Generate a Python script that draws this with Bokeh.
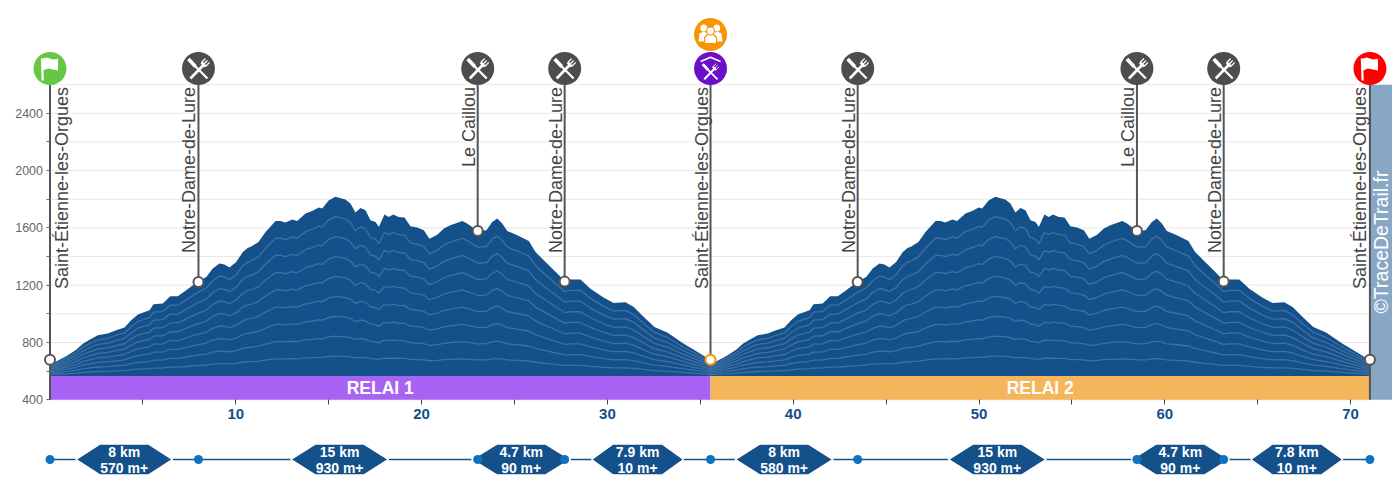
import numpy as np
from math import pi
from bokeh.plotting import figure
from bokeh.layouts import column
from bokeh.models import Range1d, FixedTicker
from bokeh.core.properties import value
from bokeh.embed import file_html
from bokeh.resources import INLINE

# ---------- data ----------
km_relai1 = [0,.33,.87,1.41,1.77,2.13,2.57,3.11,3.56,4.01,4.37,4.73,5.09,5.36,5.57,6.07,6.47,6.88,7.33,7.69,
 7.99,8.41,8.76,9.12,9.39,9.66,10.02,10.38,10.65,10.79,11.22,11.60,12.14,12.41,12.67,13.04,13.30,13.75,14.11,14.47,
 14.65,15.01,15.37,15.54,15.90,16.17,16.44,16.71,16.98,17.25,17.52,17.70,18.00,18.23,18.47,18.77,19.08,19.40,19.76,20.12,
 20.42,20.84,21.20,21.55,22.19,22.45,23.02,23.49,23.80,24.07,24.34,24.61,25.15,25.77,26.13,26.67,27.30,27.71,28.01,28.55,
 29.09,29.81,30.34,30.97,31.42,31.96,32.53,33.22,34.11,35.01,35.55]
ele_relai1 = [655,668,704,750,792,820,850,862,885,904,955,995,1013,1025,1067,1072,1122,1122,1164,1199,
 1225,1257,1316,1351,1344,1323,1362,1432,1462,1467,1502,1571,1648,1648,1637,1658,1648,1700,1718,1742,
 1735,1793,1818,1811,1798,1770,1707,1739,1723,1653,1641,1606,1693,1676,1693,1676,1672,1611,1602,1583,
 1525,1553,1595,1618,1648,1630,1578,1583,1641,1665,1630,1578,1548,1509,1432,1362,1281,1229,1239,1239,
 1176,1113,1076,1081,1048,978,908,869,792,722,676]
km_relai2 = [35.55,35.85,36.39,36.93,37.29,37.65,38.09,38.63,39.08,39.53,39.89,40.25,40.61,40.88,41.09,41.59,41.99,42.40,42.85,43.21,
 43.47,43.93,44.28,44.64,44.91,45.18,45.54,45.90,46.17,46.31,46.74,47.12,47.66,47.93,48.19,48.56,48.82,49.27,49.63,49.99,
 50.17,50.53,50.89,51.06,51.42,51.69,51.96,52.23,52.50,52.77,53.04,53.22,53.52,53.75,53.99,54.29,54.60,54.92,55.28,55.64,
 55.94,56.36,56.72,57.07,57.71,57.97,58.50,58.97,59.30,59.57,59.84,60.11,60.65,61.27,61.63,62.17,62.80,63.17,63.47,64.01,
 64.55,65.27,65.80,66.43,66.88,67.42,67.99,68.68,69.57,70.47,71.04]
ele_relai2 = [655,668,704,750,792,820,850,862,885,904,955,995,1013,1025,1067,1072,1122,1122,1164,1199,
 1225,1257,1316,1351,1344,1323,1362,1432,1462,1467,1502,1571,1648,1648,1637,1658,1648,1700,1718,1742,
 1735,1793,1818,1811,1798,1770,1707,1739,1723,1653,1641,1606,1693,1676,1693,1676,1672,1611,1602,1583,
 1525,1553,1595,1618,1648,1630,1578,1583,1641,1665,1630,1578,1548,1509,1432,1362,1281,1229,1239,1239,
 1176,1113,1076,1081,1048,978,908,869,792,722,676]

stop_names = ["Saint-Étienne-les-Orgues","Notre-Dame-de-Lure","Le Caillou","Notre-Dame-de-Lure",
              "Saint-Étienne-les-Orgues","Notre-Dame-de-Lure","Le Caillou","Notre-Dame-de-Lure","Saint-Étienne-les-Orgues"]
stop_km  = [0, 7.99, 23.02, 27.70, 35.55, 43.47, 58.50, 63.17, 71.04]
stop_ele = [680, 1222, 1578, 1225, 680, 1222, 1578, 1225, 680]
stop_icon_colors = ["#66C744","#4D4D4D","#4D4D4D","#4D4D4D","#6A10C9","#4D4D4D","#4D4D4D","#4D4D4D","#FF0000"]
stop_label_offset = [12, -9, -9, -9, -8.5, -9, -9, -9, -9.5]

relay_names = ["RELAI 1", "RELAI 2"]
relay_start = [0, 35.55]
relay_end   = [35.55, 71.04]
relay_colors = ["#A863F4", "#F5B65B"]

leg_km    = ["8 km","15 km","4.7 km","7.9 km","8 km","15 km","4.7 km","7.8 km"]
leg_gain  = ["570 m+","930 m+","90 m+","10 m+","580 m+","930 m+","90 m+","10 m+"]
leg_width = [97, 98, 99, 92, 98, 98, 98, 92]

y_ticks = [400,600,800,1000,1200,1400,1600,1800,2000,2200,2400]
y_labels = [400,800,1200,1600,2000,2400]
grid_ticks = y_ticks + [2600]
x_ticks = [5,10,15,20,25,30,35,40,45,50,55,60,65,70]
x_labels = [10,20,30,40,50,60,70]

# ---------- scale constants ----------
PX_KM = 18.58
PX_M = 0.14325
AXIS_PX = 399.3
BASE = 566
TOP = 2600
FILL = "#14508A"
CONTOUR = "#3F70A3"
DARK = "#555555"
FONT = value("Liberation Sans")


def y_at(px):
    return 400 + (AXIS_PX - px) / PX_M


ICON_Y = y_at(68)
ICON2_Y = y_at(34)

W, H1, H2 = 1392, 433, 57
x0 = -49.5 / PX_KM
xr = Range1d(x0, x0 + W / PX_KM)

p = figure(width=W, height=H1, x_range=xr, y_range=Range1d(y_at(H1), y_at(0)),
           output_backend="svg", toolbar_location=None,
           min_border_left=0, min_border_right=0, min_border_top=0, min_border_bottom=0)
p.outline_line_color = None
p.background_fill_color = "white"

p.grid.visible = False
n_grid = len(grid_ticks)
p.segment(x0=[0] * n_grid, y0=grid_ticks, x1=[relay_end[-1]] * n_grid, y1=grid_ticks,
          line_color="#E8E8E8", line_width=1)

ax = p.yaxis[0]
ax.fixed_location = 0
ax.ticker = FixedTicker(ticks=y_ticks)
ax.major_label_overrides = {t: (str(t) if t in y_labels else "") for t in y_ticks}
ax.axis_line_color = None
ax.major_tick_line_color = "#666666"
ax.major_tick_out = 4
ax.major_tick_in = 0
ax.minor_tick_line_color = None
ax.major_label_text_color = "#666666"
ax.major_label_text_font = "Liberation Sans"
ax.major_label_text_font_size = "12.5px"
ax.major_label_standoff = 3

bx = p.xaxis[0]
bx.fixed_location = 400
bx.ticker = FixedTicker(ticks=x_ticks)
bx.major_label_overrides = {t: (str(t) if t in x_labels else "") for t in x_ticks}
bx.axis_line_color = None
bx.major_tick_line_color = "#444444"
bx.major_tick_out = 5
bx.major_tick_in = 0
bx.minor_tick_line_color = None
bx.major_label_text_color = FILL
bx.major_label_text_font = "Liberation Sans"
bx.major_label_text_font_style = "bold"
bx.major_label_text_font_size = "15px"
bx.major_label_standoff = 4

# right credit band
p.quad(left=[relay_end[-1]], right=[xr.end], bottom=[400], top=[TOP], fill_color="#88A7C4", line_color=None)
p.text(x=[relay_end[-1]], y=[y_at(313)], text=["©TraceDeTrail.fr"], angle=pi / 2,
       text_color="white", text_font=FONT, text_font_size="19.5px",
       text_align="left", text_baseline="alphabetic", x_offset=11)

# profile area with contours
for km, ele in [(km_relai1, ele_relai1), (km_relai2, ele_relai2)]:
    km_a, ele_a = np.array(km), np.array(ele, dtype=float)
    p.varea(x=km_a, y1=np.full(len(km_a), BASE), y2=ele_a, fill_color=FILL)
    for k in range(1, 9):
        p.line(km_a, BASE + (ele_a - BASE) * k / 9, line_color=CONTOUR, line_width=1.3)

# relay bands
p.quad(left=relay_start, right=relay_end, bottom=[400, 400], top=[BASE, BASE],
       fill_color=relay_colors, line_color=None)
p.text(x=[(a + b) / 2 for a, b in zip(relay_start, relay_end)], y=[(400 + BASE) / 2, (400 + BASE) / 2],
       text=relay_names, text_color="white", text_font=FONT, text_font_style="bold", text_font_size="17.5px",
       text_align="center", text_baseline="middle")

# stems
stem_bottom = [400 if i in (0, len(stop_km) - 1) else e for i, e in enumerate(stop_ele)]
p.segment(x0=stop_km, y0=stem_bottom, x1=stop_km, y1=[ICON_Y] * len(stop_km), line_color=DARK, line_width=2)

# labels
for name, k, off in zip(stop_names, stop_km, stop_label_offset):
    p.text(x=[k], y=[y_at(86.5)], text=[name], angle=pi / 2, text_color="#444444", text_font=FONT,
           text_font_size="18px", text_align="right", text_baseline="alphabetic", x_offset=off)

# profile circles
p.scatter(stop_km, stop_ele, size=10, fill_color="white",
          line_color=[("#F79400" if i == 4 else DARK) for i in range(len(stop_km))], line_width=2)

# icon discs
p.scatter(stop_km, [ICON_Y] * len(stop_km), size=33, fill_color=stop_icon_colors, line_color=None)
p.scatter([stop_km[4]], [ICON2_Y], size=33, fill_color="#F79400", line_color=None)


def to_data(cx, cy, pts, scale=1.0, dy=0.0):
    return ([cx + scale * a / PX_KM for a, b in pts],
            [cy - (scale * b + dy) / PX_M for a, b in pts])


KNIFE = [(-10, -9), (9, 10)]
BLADE = [(-10, -9.5), (-3, -2)]
HANDLE = [(-8, 10), (5, -3.5)]
HEAD = [(3, -6), (7, -2)]
TINES = [[(3, -6), (7, -10)], [(5, -4), (9, -8)], [(7, -2), (11, -6)]]


def cutlery(cx, cy, scale=1.0, dy=0.0):
    for pts, w in [(KNIFE, 2.2), (BLADE, 3.6), (HANDLE, 2.6), (HEAD, 2.6)] + [(t, 1.2) for t in TINES]:
        xs, ys = to_data(cx, cy, pts, scale, dy)
        p.line(xs, ys, line_color="white", line_width=w * scale)


for i, c in enumerate(stop_icon_colors):
    if c == "#4D4D4D":
        cutlery(stop_km[i], ICON_Y)

# mid icon: roof plus cutlery
cutlery(stop_km[4], ICON_Y, 0.78, 3)
xs, ys = to_data(stop_km[4], ICON_Y, [(-10, -7), (0, -11.3), (10, -7)])
p.line(xs, ys, line_color="white", line_width=1.6)

# flags
FLAG = [(-7, -10), (-3, -11), (3, -9), (8, -9.8), (8, 2), (3, 1), (-2, 0), (-7, 2)]
POLE = [(-8, -10), (-7.3, 12)]
for i in (0, len(stop_km) - 1):
    xs, ys = to_data(stop_km[i], ICON_Y, FLAG)
    p.patch(xs, ys, fill_color="white", line_color=None)
    xs, ys = to_data(stop_km[i], ICON_Y, POLE)
    p.line(xs, ys, line_color="white", line_width=2.2)

# people icon
cx = stop_km[4]
for body in ([(-12, 7), (-11, -1), (-7, -3), (-3, -1), (-3, 7)], [(12, 7), (11, -1), (7, -3), (3, -1), (3, 7)]):
    xs, ys = to_data(cx, ICON2_Y, body)
    p.patch(xs, ys, fill_color="white", line_color=None)
xs, ys = to_data(cx, ICON2_Y, [(-6, 9), (-6, 3), (-3, 0), (3, 0), (6, 3), (6, 9)])
p.patch(xs, ys, fill_color="white", line_color="#F79400", line_width=1.2)
hx, hy = to_data(cx, ICON2_Y, [(-6.7, -6.5), (6.2, -6.5)])
p.scatter(hx, hy, size=7, fill_color="white", line_color=None)
hx, hy = to_data(cx, ICON2_Y, [(0, -3.5)])
p.scatter(hx, hy, size=8, fill_color="white", line_color="#F79400", line_width=1.2)

# ---------- leg strip ----------
s = figure(width=W, height=H2, x_range=xr, y_range=Range1d(H2, 0),
           output_backend="svg", toolbar_location=None,
           min_border_left=0, min_border_right=0, min_border_top=0, min_border_bottom=0)
s.outline_line_color = None
s.axis.visible = False
s.grid.visible = False

MID = 26
s.line([stop_km[0], stop_km[-1]], [MID, MID], line_color=FILL, line_width=1.5)
for i, (a, b) in enumerate(zip(stop_km[:-1], stop_km[1:])):
    c = (a + b) / 2
    if i == 1:
        c += 1.5 / PX_KM
    half = leg_width[i] / 2 / PX_KM
    flat = 24.5 / PX_KM
    s.patch([c - half, c - flat, c + flat, c + half, c + flat, c - flat],
            [MID, MID - 15.5, MID - 15.5, MID, MID + 15.5, MID + 15.5],
            fill_color=FILL, line_color="white", line_width=1.5)
    s.text(x=[c, c], y=[MID - 7.2, MID + 8.0], text=[leg_km[i], leg_gain[i]], text_color="white",
           text_font=FONT, text_font_style="bold", text_font_size="14px",
           text_align="center", text_baseline="middle")
s.scatter(stop_km, [MID] * len(stop_km), size=9, fill_color="#1072BE", line_color=None)

open("out.html", "w").write(file_html(column(p, s, spacing=0), INLINE))
